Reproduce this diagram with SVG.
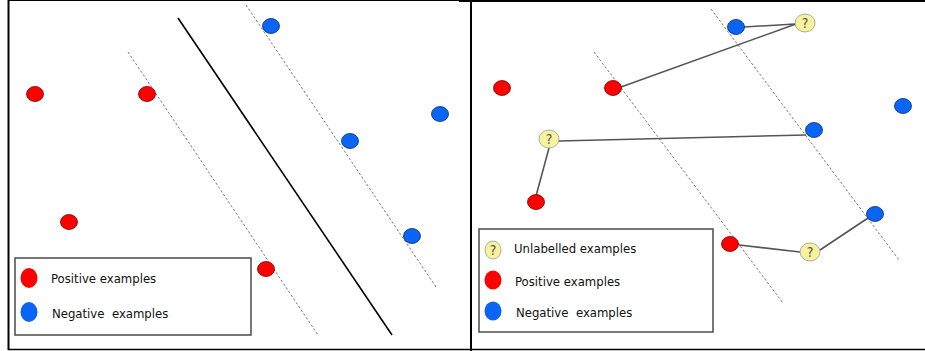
<svg xmlns="http://www.w3.org/2000/svg" width="925" height="351" viewBox="0 0 925 351">
<style>
.frame{stroke:#000;fill:none}
.sep{stroke:#000;stroke-width:1.6;fill:none}
.dash{stroke:#777;stroke-width:1;stroke-dasharray:2.5,2;fill:none}
.link{stroke:#555;stroke-width:1.6;fill:none}
.pos{fill:#f00;stroke:#7a0000;stroke-width:0.8}
.neg{fill:#0a64f5;stroke:#08306b;stroke-width:0.8}
.unl{fill:#f7f39c;stroke:#999;stroke-width:0.8}
.lpos{fill:#f00}
.lneg{fill:#0a64f5}
.box{fill:#fff;stroke:#555;stroke-width:1.6}
.q{font-family:"DejaVu Sans Condensed","DejaVu Sans",sans-serif;font-size:14px;fill:#555;text-anchor:middle}
.lbl{font-family:"DejaVu Sans Condensed","DejaVu Sans",sans-serif;font-size:13px;fill:#111;white-space:pre}
</style>
<rect width="925" height="351" fill="#fff"/>
<g id="frame">
<line class="frame" x1="8" y1="0.5" x2="459" y2="0.5" stroke-width="1"/>
<line class="frame" x1="459" y1="1" x2="925" y2="1" stroke-width="2"/>
<line class="frame" x1="8.5" y1="0" x2="8.5" y2="350" stroke-width="2"/>
<line class="frame" x1="471" y1="0" x2="471" y2="351" stroke-width="2"/>
<line class="frame" x1="8" y1="349.5" x2="925" y2="349.5" stroke-width="1.5"/>
</g>
<g id="connectors">
<line class="dash" x1="128" y1="52" x2="318" y2="335"/>
<line class="dash" x1="246" y1="5" x2="436" y2="287"/>
<line class="sep" x1="178" y1="18" x2="392" y2="335"/>
<line class="dash" x1="594" y1="52" x2="783" y2="303"/>
<line class="dash" x1="711" y1="9" x2="899" y2="260"/>
<line class="link" x1="744" y1="27" x2="795" y2="24"/>
<line class="link" x1="621" y1="87" x2="796" y2="24"/>
<line class="link" x1="559" y1="141" x2="806" y2="135"/>
<line class="link" x1="549" y1="148" x2="536" y2="196"/>
<line class="link" x1="739" y1="245" x2="800" y2="252"/>
<line class="link" x1="820" y1="250" x2="868" y2="218"/>
</g>
<g id="left-points">
<ellipse class="pos" cx="35" cy="94" rx="8.5" ry="7.5"/>
<ellipse class="pos" cx="147" cy="94" rx="8.5" ry="7.5"/>
<ellipse class="pos" cx="69" cy="222" rx="8.5" ry="7.5"/>
<ellipse class="pos" cx="266" cy="269" rx="8.5" ry="7.5"/>
<ellipse class="neg" cx="271" cy="26" rx="8.5" ry="7.5"/>
<ellipse class="neg" cx="350" cy="141" rx="8.5" ry="7.5"/>
<ellipse class="neg" cx="440" cy="114" rx="8.5" ry="7.5"/>
<ellipse class="neg" cx="412" cy="236" rx="8.5" ry="7.5"/>
</g>
<g id="left-legend">
<rect class="box" x="15" y="258" width="236" height="77"/>
<ellipse class="lpos" cx="29" cy="278" rx="8.5" ry="10"/>
<ellipse class="lneg" cx="29" cy="312" rx="8.5" ry="10"/>
<text class="lbl" x="51" y="283">Positive examples</text>
<text class="lbl" x="52" y="318">Negative  examples</text>
</g>
<g id="right-points">
<ellipse class="pos" cx="502" cy="88" rx="8.5" ry="7.5"/>
<ellipse class="pos" cx="613" cy="88" rx="8.5" ry="7.5"/>
<ellipse class="pos" cx="536" cy="202" rx="8.5" ry="7.5"/>
<ellipse class="pos" cx="730" cy="244" rx="8.5" ry="7.5"/>
<ellipse class="neg" cx="736" cy="27" rx="8.5" ry="7.5"/>
<ellipse class="neg" cx="814" cy="130" rx="8.5" ry="7.5"/>
<ellipse class="neg" cx="903" cy="106" rx="8.5" ry="7.5"/>
<ellipse class="neg" cx="875" cy="214" rx="8.5" ry="7.5"/>
</g>
<g id="unlabelled-1">
<ellipse class="unl" cx="805" cy="23" rx="10" ry="9"/>
<text class="q" x="805" y="28">?</text>
</g>
<g id="unlabelled-2">
<ellipse class="unl" cx="549" cy="139" rx="10" ry="9"/>
<text class="q" x="549" y="144">?</text>
</g>
<g id="unlabelled-3">
<ellipse class="unl" cx="810" cy="252" rx="10" ry="9"/>
<text class="q" x="810" y="257">?</text>
</g>
<g id="right-legend">
<rect class="box" x="479" y="229" width="234" height="103"/>
<ellipse class="unl" cx="493" cy="250" rx="8" ry="9"/>
<text class="q" x="493" y="255">?</text>
<ellipse class="lpos" cx="493" cy="280" rx="8.5" ry="9.5"/>
<ellipse class="lneg" cx="493" cy="311" rx="8.5" ry="9.5"/>
<text class="lbl" x="514" y="253">Unlabelled examples</text>
<text class="lbl" x="515" y="286">Positive examples</text>
<text class="lbl" x="516" y="317">Negative  examples</text>
</g>
</svg>
